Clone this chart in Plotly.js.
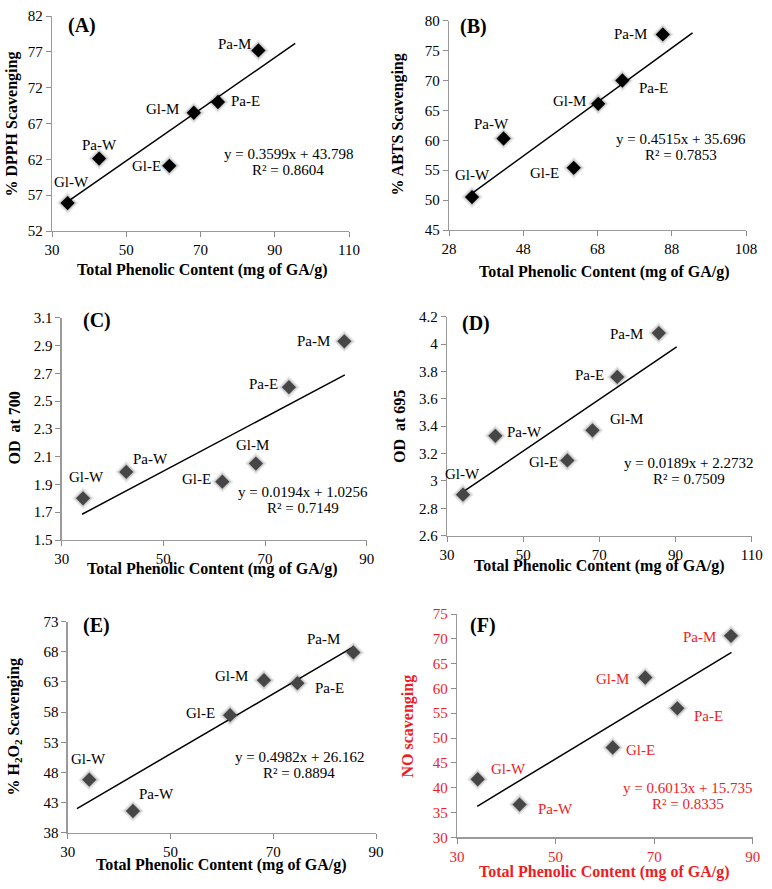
<!DOCTYPE html>
<html>
<head>
<meta charset="utf-8">
<script src="https://cdn.plot.ly/plotly-3.0.1.min.js"></script>
<style>html,body{margin:0;padding:0;background:#fff;}#chart{width:772px;height:889px;}</style>
</head>
<body>
<div id="chart"></div>
<script>
// ---------- data ----------
const sampleLabels = ['Gl-W', 'Pa-W', 'Gl-E', 'Gl-M', 'Pa-E', 'Pa-M'];
const totalPhenolic = [34.2, 42.7, 61.6, 68.2, 74.7, 85.6];
const dpphScavenging = [55.9, 62.1, 61.1, 68.5, 70.0, 77.2];
const abtsScavenging = [50.5, 60.3, 55.4, 66.1, 70.0, 77.7];
const od700 = [1.80, 1.99, 1.92, 2.05, 2.60, 2.93];
const od695 = [2.90, 3.33, 3.15, 3.37, 3.76, 4.08];
const h2o2Scavenging = [46.8, 41.6, 57.5, 63.3, 62.8, 67.9];
const noScavenging = [41.7, 36.6, 48.1, 62.2, 56.0, 70.6];
const panelNames = ['(A)', '(B)', '(C)', '(D)', '(E)', '(F)'];
const trendSlopes = [0.3599, 0.4515, 0.0194, 0.0189, 0.4982, 0.6013];
const trendIntercepts = [43.798, 35.696, 1.0256, 2.2732, 26.162, 15.735];
const trendR2 = ['0.8604', '0.7853', '0.7149', '0.7509', '0.8894', '0.8335'];
const trendFrom = [34.2, 34.1, 34.0, 34.1, 31.8, 34.1];
const trendTo = [95.5, 93.6, 85.7, 90.3, 85.6, 85.7];
const yTitles = ['% DPPH Scavenging', '% ABTS Scavenging', 'OD  at 700', 'OD  at 695',
                 '% H<sub>2</sub>O<sub>2</sub> Scavenging', 'NO scavenging'];
const xTitle = 'Total Phenolic Content (mg of GA/g)';
const xRanges = [[30, 110], [28, 108], [30, 90], [30, 110], [30, 90], [30, 90]];
const yRanges = [[52, 82], [45, 80], [1.5, 3.1], [2.6, 4.2], [38, 73], [30, 75]];
const yDticks = [5, 5, 0.2, 0.2, 5, 5];
const xDtick = 20;

// ---------- styling / layout (pixels) ----------
const W = 772, H = 889;
const px = x => x / W, py = y => 1 - y / H;
const FONT = 'Liberation Serif, Times New Roman, serif';
const RED = '#ee1c24';
const series = [dpphScavenging, abtsScavenging, od700, od695, h2o2Scavenging, noScavenging];
const boxes = [ // left, right, top, bottom
  [52, 349, 16, 231], [449, 746, 20.7, 230],
  [61.7, 366.7, 317.7, 540], [447, 751.7, 316.7, 535.7],
  [67.7, 376, 621.7, 832.7], [457, 752.7, 614, 837.3]
];
const markerColors = ['#000000', '#000000', '#464646', '#464646', '#464646', '#464646'];
const textColors = ['#000', '#000', '#000', '#000', '#000', RED];
// label offsets in screen px [dx, dy] per sample
const labelOffsets = [
  [[4, -21], [0, -14], [-23, 0], [-31, -4], [28, -1], [-24, -6]],
  [[0, -22], [-12, -15], [-29, 5], [-29, -3], [31, 7], [-32, 0]],
  [[3, -21], [24, -13], [-26, -3], [-3, -19], [-25, -3], [-31, 0]],
  [[0, -21], [29, -4], [-24, 2], [34, -11], [-28, -2], [-32, 1]],
  [[-1, -21], [24, -17], [-30, -2], [-32, -4], [32, 5], [-30, -13]],
  [[31, -10], [36, 4], [28, 3], [-33, 1], [31, 8], [-32, 1]]
];
const eqPos = [[288, 154], [681, 139.5], [303, 491.5], [688.5, 463.3], [299.3, 756.7], [687.7, 787.7]];
const letterPos = [[82, 25], [474, 26.5], [97, 320], [476, 324], [96, 625], [483, 625]];
const xTitlePos = [[202, 270], [604, 271.5], [213, 569], [599, 566], [221.5, 865], [604, 871.5]];
const yTitlePos = [[11.5, 124], [397.5, 125], [13.5, 428], [399.5, 426.5], [13.5, 727], [407.5, 726]];

const traces = [];
const layout = {
  width: W, height: H, margin: {l: 0, r: 0, t: 0, b: 0},
  paper_bgcolor: '#fff', plot_bgcolor: 'rgba(0,0,0,0)',
  showlegend: false, annotations: [],
  font: {family: FONT, size: 15, color: '#000'}
};

for (let i = 0; i < 6; i++) {
  const n = i === 0 ? '' : String(i + 1);
  const xa = 'x' + n, ya = 'y' + n;
  const b = boxes[i];
  const tc = textColors[i];
  layout['xaxis' + n] = {
    domain: [px(b[0]), px(b[1])], anchor: ya, range: xRanges[i],
    tick0: xRanges[i][0], dtick: xDtick, ticks: 'outside', ticklen: 5,
    tickcolor: '#8c8c8c', showline: true, linecolor: '#9a9a9a', linewidth: 1.3,
    showgrid: false, zeroline: false, fixedrange: true,
    tickfont: {family: FONT, size: 15, color: tc}
  };
  layout['yaxis' + n] = {
    domain: [py(b[3]), py(b[2])], anchor: xa, range: yRanges[i],
    tick0: yRanges[i][0], dtick: yDticks[i], ticks: 'outside', ticklen: 5,
    tickcolor: '#8c8c8c', showline: true, linecolor: '#9a9a9a', linewidth: 1.3,
    showgrid: false, zeroline: false, fixedrange: true,
    tickfont: {family: FONT, size: 15, color: tc}
  };
  // trend line
  const tx = [trendFrom[i], trendTo[i]];
  traces.push({
    x: tx, y: tx.map(v => trendSlopes[i] * v + trendIntercepts[i]),
    xaxis: xa, yaxis: ya, mode: 'lines', line: {color: '#000', width: 1.5},
    hoverinfo: 'skip'
  });
  // soft shadow
  traces.push({
    x: totalPhenolic, y: series[i], xaxis: xa, yaxis: ya, mode: 'markers',
    marker: {symbol: 'diamond', size: 17, color: 'rgba(0,0,0,0.08)', line: {width: 0}},
    hoverinfo: 'skip'
  });
  traces.push({
    x: totalPhenolic, y: series[i], xaxis: xa, yaxis: ya, mode: 'markers',
    marker: {symbol: 'diamond', size: 14, color: 'rgba(0,0,0,0.12)', line: {width: 0}},
    hoverinfo: 'skip'
  });
  // points
  traces.push({
    x: totalPhenolic, y: series[i], xaxis: xa, yaxis: ya, mode: 'markers',
    text: sampleLabels,
    marker: {symbol: 'diamond', size: 11, color: markerColors[i], line: {width: 0}}
  });
  // point labels
  sampleLabels.forEach((lab, k) => {
    layout.annotations.push({
      x: totalPhenolic[k], y: series[i][k], xref: xa, yref: ya, text: lab,
      showarrow: false, xanchor: 'center', yanchor: 'middle',
      xshift: labelOffsets[i][k][0], yshift: -labelOffsets[i][k][1],
      font: {family: FONT, size: 15, color: tc}
    });
  });
  // equation
  layout.annotations.push({
    x: px(eqPos[i][0]), y: py(eqPos[i][1]), xref: 'paper', yref: 'paper',
    text: 'y = ' + trendSlopes[i].toFixed(4) + 'x + ' + String(trendIntercepts[i]),
    showarrow: false, xanchor: 'center', yanchor: 'middle',
    font: {family: FONT, size: 15, color: tc}
  });
  layout.annotations.push({
    x: px(eqPos[i][0]), y: py(eqPos[i][1] + 16), xref: 'paper', yref: 'paper',
    text: 'R² = ' + trendR2[i],
    showarrow: false, xanchor: 'center', yanchor: 'middle',
    font: {family: FONT, size: 15, color: tc}
  });
  // panel letter
  layout.annotations.push({
    x: px(letterPos[i][0]), y: py(letterPos[i][1]), xref: 'paper', yref: 'paper',
    text: '<b>' + panelNames[i] + '</b>', showarrow: false,
    xanchor: 'center', yanchor: 'middle',
    font: {family: FONT, size: 20, color: '#000'}
  });
  // axis titles
  layout.annotations.push({
    x: px(xTitlePos[i][0]), y: py(xTitlePos[i][1]), xref: 'paper', yref: 'paper',
    text: '<b>' + xTitle + '</b>', showarrow: false,
    xanchor: 'center', yanchor: 'middle',
    font: {family: FONT, size: 16, color: tc}
  });
  layout.annotations.push({
    x: px(yTitlePos[i][0]), y: py(yTitlePos[i][1]), xref: 'paper', yref: 'paper',
    text: '<b>' + yTitles[i] + '</b>', showarrow: false, textangle: -90,
    xanchor: 'center', yanchor: 'middle',
    font: {family: FONT, size: 16, color: tc}
  });
}

Plotly.newPlot('chart', traces, layout, {staticPlot: true, displayModeBar: false});
</script>
</body>
</html>
